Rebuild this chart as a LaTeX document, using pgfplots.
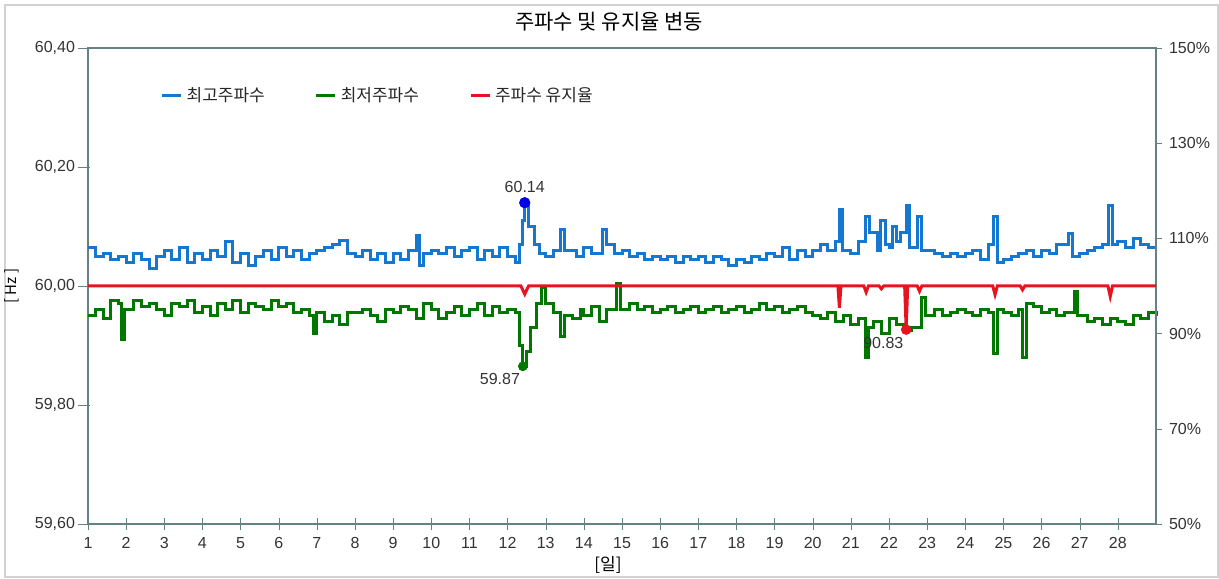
\documentclass[border=0pt]{standalone}
\usepackage{fontspec}
\setmainfont{Liberation Sans}
\newfontfamily\kr{Noto Sans CJK KR}
\usepackage{pgfplots}
\usepackage{pgfplotstable}
\pgfplotsset{compat=1.18}
\definecolor{cblue}{RGB}{20,120,210}
\definecolor{cgreen}{RGB}{0,120,0}
\definecolor{cred}{RGB}{230,20,30}
\definecolor{cmark}{RGB}{0,0,230}
\definecolor{axc}{RGB}{100,130,130}

\pgfplotstableread{
x y
1.0 60.065
1.2 60.050
1.4 60.055
1.6 60.045
1.8 60.050
2.0 60.040
2.2 60.055
2.4 60.045
2.6 60.030
2.8 60.050
3.0 60.060
3.2 60.045
3.4 60.065
3.6 60.040
3.8 60.055
4.0 60.045
4.2 60.060
4.4 60.050
4.6 60.075
4.8 60.040
5.0 60.055
5.2 60.035
5.4 60.050
5.6 60.060
5.8 60.045
6.0 60.065
6.2 60.050
6.4 60.060
6.6 60.045
6.8 60.055
7.0 60.060
7.2 60.065
7.4 60.070
7.6 60.077
7.8 60.055
8.0 60.050
8.2 60.060
8.4 60.045
8.6 60.055
8.8 60.040
9.0 60.055
9.2 60.045
9.4 60.060
9.6 60.085
9.7 60.035
9.8 60.055
10.0 60.060
10.2 60.055
10.4 60.065
10.6 60.050
10.8 60.060
11.0 60.065
11.2 60.045
11.4 60.060
11.6 60.050
11.8 60.065
12.0 60.050
12.2 60.040
12.3 60.070
12.4 60.110
12.45 60.140
12.55 60.100
12.7 60.070
12.85 60.055
13.0 60.050
13.2 60.060
13.4 60.095
13.5 60.060
13.8 60.050
14.0 60.065
14.2 60.055
14.5 60.095
14.6 60.070
14.8 60.055
15.0 60.060
15.2 60.050
15.4 60.055
15.6 60.045
15.8 60.050
16.0 60.045
16.2 60.050
16.4 60.040
16.6 60.050
16.8 60.045
17.0 60.050
17.2 60.040
17.4 60.050
17.6 60.045
17.8 60.035
18.0 60.045
18.2 60.040
18.4 60.050
18.6 60.045
18.8 60.055
19.0 60.050
19.2 60.065
19.4 60.045
19.6 60.060
19.8 60.050
20.0 60.060
20.2 60.070
20.4 60.060
20.6 60.075
20.7 60.128
20.78 60.060
21.0 60.055
21.2 60.075
21.38 60.116
21.5 60.090
21.7 60.060
21.78 60.110
21.9 60.070
22.0 60.065
22.1 60.100
22.2 60.075
22.3 60.090
22.45 60.135
22.55 60.065
22.75 60.116
22.85 60.060
23.0 60.060
23.2 60.055
23.4 60.050
23.6 60.055
23.8 60.050
24.0 60.055
24.2 60.060
24.4 60.045
24.6 60.070
24.75 60.116
24.85 60.040
25.0 60.045
25.2 60.050
25.4 60.055
25.6 60.060
25.8 60.050
26.0 60.060
26.2 60.055
26.4 60.070
26.7 60.089
26.8 60.050
27.0 60.055
27.2 60.060
27.4 60.065
27.6 60.070
27.75 60.135
27.85 60.070
28.0 60.075
28.2 60.065
28.4 60.080
28.6 60.070
28.8 60.065
29.0 60.065
}\tblhigh

\pgfplotstableread{
x y
1.0 59.950
1.2 59.960
1.4 59.945
1.6 59.975
1.8 59.970
1.87 59.910
1.95 59.960
2.2 59.975
2.4 59.965
2.6 59.970
2.8 59.960
3.0 59.950
3.2 59.970
3.4 59.965
3.6 59.975
3.8 59.955
4.0 59.965
4.2 59.950
4.4 59.970
4.6 59.960
4.8 59.975
5.0 59.955
5.2 59.970
5.4 59.965
5.6 59.960
5.8 59.975
6.0 59.965
6.2 59.970
6.4 59.955
6.6 59.960
6.8 59.950
6.9 59.921
7.0 59.955
7.2 59.940
7.4 59.950
7.6 59.935
7.8 59.955
8.0 59.955
8.2 59.960
8.4 59.950
8.6 59.940
8.8 59.960
9.0 59.955
9.2 59.965
9.4 59.960
9.6 59.945
9.8 59.970
10.0 59.960
10.2 59.945
10.4 59.955
10.6 59.965
10.8 59.950
11.0 59.960
11.2 59.970
11.4 59.950
11.6 59.965
11.8 59.955
12.0 59.960
12.2 59.955
12.3 59.900
12.4 59.865
12.5 59.890
12.6 59.930
12.75 59.970
12.9 59.997
13.0 59.970
13.2 59.955
13.4 59.915
13.5 59.950
13.7 59.945
13.9 59.960
14.0 59.950
14.2 59.965
14.4 59.940
14.6 59.960
14.85 60.005
14.95 59.960
15.2 59.970
15.4 59.960
15.6 59.965
15.8 59.955
16.0 59.960
16.2 59.965
16.4 59.955
16.6 59.960
16.8 59.965
17.0 59.955
17.2 59.960
17.4 59.965
17.6 59.955
17.8 59.960
18.0 59.965
18.2 59.955
18.4 59.960
18.6 59.970
18.8 59.960
19.0 59.965
19.2 59.955
19.4 59.960
19.6 59.965
19.8 59.955
20.0 59.950
20.2 59.945
20.4 59.955
20.6 59.940
20.8 59.950
21.0 59.935
21.2 59.945
21.38 59.880
21.45 59.930
21.6 59.940
21.8 59.920
22.0 59.945
22.2 59.935
22.4 59.925
22.6 59.930
22.85 59.980
22.95 59.950
23.2 59.960
23.4 59.950
23.6 59.955
23.8 59.960
24.0 59.955
24.2 59.950
24.4 59.960
24.6 59.955
24.75 59.887
24.85 59.960
25.0 59.955
25.2 59.950
25.4 59.960
25.5 59.879
25.6 59.970
25.8 59.965
26.0 59.955
26.2 59.960
26.4 59.950
26.6 59.955
26.85 59.990
26.95 59.950
27.2 59.940
27.4 59.945
27.6 59.935
27.8 59.945
28.0 59.940
28.2 59.935
28.4 59.950
28.6 59.945
28.8 59.955
29.0 59.950
}\tbllow

\pgfplotstableread{
x y
1.0 100
12.35 100
12.45 98.3
12.55 100
20.66 100
20.7 95.4
20.74 100
21.34 100
21.4 98.7
21.46 100
21.74 100
21.8 99.4
21.86 100
22.41 100
22.45 90.83
22.49 100
22.74 100
22.8 98.9
22.86 100
24.72 100
24.78 98.2
24.84 100
25.44 100
25.5 99.2
25.56 100
27.74 100
27.8 97.8
27.86 100
29.0 100
}\tblrate

\begin{document}
\begin{tikzpicture}
\useasboundingbox (-44pt,-27pt) rectangle (565.5pt,262pt);
\draw[gray!35, line width=0.6pt] (-41.5pt,-26.5pt) rectangle (565pt,259.5pt);
\node[font=\kr\fontsize{10.5}{12}\selectfont] at (260.5pt,251pt) {주파수 및 유지율 변동};
\node[font=\kr\fontsize{7.5}{9}\selectfont, rotate=90] at (-38pt,119pt) {[ Hz ]};
\node[font=\kr\fontsize{8.5}{10}\selectfont] at (260pt,-20.5pt) {[일]};

\begin{axis}[
  at={(0pt,0pt)}, anchor=south west, scale only axis,
  width=534pt, height=238pt,
  xmin=1, xmax=29, ymin=59.6, ymax=60.4,
  axis line style={axc, line width=0.7pt},
  xtick={1,...,28}, xtick pos=left,
  ytick={59.6,59.8,60.0,60.2,60.4}, ytick pos=left,
  yticklabels={{59,60},{59,80},{60,00},{60,20},{60,40}},
  tick align=center, major tick length=6pt,
  ytick style={axc, xshift=-2pt},
  xtick style={axc},
  ticklabel style={font=\fontsize{8}{9}\selectfont, text=black!80},
  /pgf/number format/assume math mode=true,
  clip=false,
]
\addplot[const plot, cblue, line width=1.5pt] table[x=x,y=y] {\tblhigh};
\addplot[const plot, cgreen, line width=1.5pt] table[x=x,y=y] {\tbllow};
\addplot[only marks, mark=*, mark size=2.6pt, cmark] coordinates {(12.45,60.14)};
\addplot[only marks, mark=*, mark size=2.2pt, cgreen] coordinates {(12.4,59.865)};
\node[font=\fontsize{8}{9}\selectfont, text=black!80, above] at (axis cs:12.45,60.145) {60.14};
\node[font=\fontsize{8}{9}\selectfont, text=black!80] at (axis cs:11.8,59.843) {59.87};
\end{axis}

\begin{axis}[
  at={(0pt,0pt)}, anchor=south west, scale only axis,
  width=534pt, height=238pt,
  xmin=1, xmax=29, ymin=50, ymax=150,
  axis x line=none, axis y line*=right,
  axis line style={axc, line width=0.7pt},
  ytick={50,70,90,110,130,150},
  yticklabels={{50\%},{70\%},{90\%},{110\%},{130\%},{150\%}},
  tick align=outside, major tick length=3pt,
  ytick style={axc},
  ticklabel style={font=\fontsize{8}{9}\selectfont, text=black!80},
  clip=false,
  legend style={at={(0.062,0.90)}, anchor=west, draw=none, fill=none,
    font=\kr\fontsize{8.5}{10}\selectfont, text=black!85,
    /tikz/every even column/.append style={column sep=23pt}},
  legend columns=-1,
  legend image code/.code={\draw[#1, line width=1.5pt] (0pt,0pt) -- (9.5pt,0pt);},
]
\addlegendimage{cblue}
\addlegendentry{최고주파수}
\addlegendimage{cgreen}
\addlegendentry{최저주파수}
\addplot[cred, line width=1.5pt] table[x=x,y=y] {\tblrate};
\addlegendentry{주파수 유지율}
\addplot[only marks, mark=*, mark size=2.4pt, cred, forget plot] coordinates {(22.45,90.83)};
\node[font=\fontsize{8}{9}\selectfont, text=black!80] at (axis cs:21.85,88.0) {90.83};
\end{axis}
\end{tikzpicture}
\end{document}
